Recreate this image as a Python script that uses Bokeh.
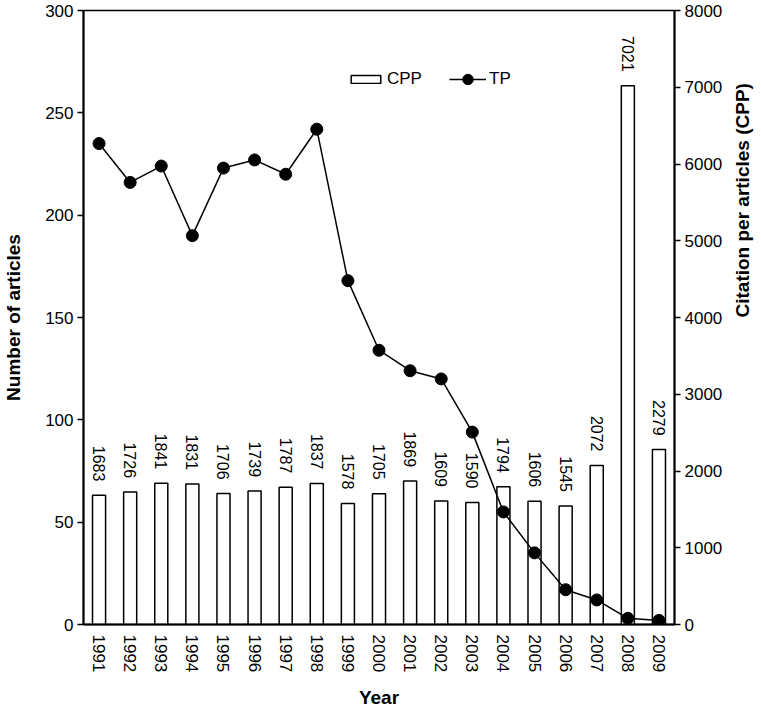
import math
from bokeh.plotting import figure
from bokeh.models import (FactorRange, Range1d, LinearAxis, FixedTicker, Legend,
                          LegendItem, ColumnDataSource)
from bokeh.core.properties import value
from bokeh.embed import file_html
from bokeh.resources import INLINE

years = ["1991", "1992", "1993", "1994", "1995", "1996", "1997", "1998", "1999", "2000",
         "2001", "2002", "2003", "2004", "2005", "2006", "2007", "2008", "2009"]
cpp = [1683, 1726, 1841, 1831, 1706, 1739, 1787, 1837, 1578, 1705,
       1869, 1609, 1590, 1794, 1606, 1545, 2072, 7021, 2279]
tp = [235, 216, 224, 190, 223, 227, 220, 242, 168, 134,
      124, 120, 94, 55, 35, 17, 12, 3, 2]
left_ticks = [0, 50, 100, 150, 200, 250, 300]
right_ticks = [0, 1000, 2000, 3000, 4000, 5000, 6000, 7000, 8000]

FONT = "Liberation Sans"

src = ColumnDataSource(dict(year=years, cpp=cpp, tp=tp, lab=[str(v) for v in cpp]))

p = figure(x_range=FactorRange(factors=years), y_range=Range1d(0, 300),
           frame_width=591, frame_height=614,
           min_border_left=74, min_border_top=10, min_border_right=80, min_border_bottom=70,
           output_backend="svg", toolbar_location=None, y_axis_location=None)
p.extra_y_ranges = {"cpp": Range1d(0, 8000)}
p.xgrid.visible = False
p.ygrid.visible = False
p.outline_line_color = "black"
p.outline_line_width = 1.5
p.background_fill_color = "white"
p.border_fill_color = "white"

left = LinearAxis(ticker=FixedTicker(ticks=left_ticks), axis_label="Number of articles")
right = LinearAxis(y_range_name="cpp", ticker=FixedTicker(ticks=right_ticks),
                   axis_label="Citation per articles (CPP)")
for ax in (left, right):
    ax.minor_tick_line_color = None
    ax.major_tick_in = 0
    ax.major_tick_out = 6
    ax.major_tick_line_width = 1.5
    ax.axis_line_width = 2
    ax.major_label_text_font = FONT
    ax.major_label_text_font_size = "17px"
    ax.major_label_text_color = "black"
    ax.major_label_standoff = 4
    ax.axis_label_text_font = FONT
    ax.axis_label_text_font_size = "19px"
    ax.axis_label_text_font_style = "bold"
    ax.axis_label_text_color = "black"
left.axis_label_standoff = 18
right.axis_label_standoff = 17
if hasattr(right, "axis_label_orientation"):
    right.axis_label_orientation = math.pi / 2
p.add_layout(left, "left")
p.add_layout(right, "right")

xa = p.xaxis[0]
xa.axis_label = "Year"
xa.major_tick_line_color = None
xa.minor_tick_line_color = None
xa.major_tick_out = 0
xa.axis_line_width = 2
xa.major_label_orientation = -math.pi / 2
xa.major_label_text_font = FONT
xa.major_label_text_font_size = "17px"
xa.major_label_text_color = "black"
xa.major_label_standoff = 10
xa.axis_label_text_font = FONT
xa.axis_label_text_font_size = "19px"
xa.axis_label_text_font_style = "bold"
xa.axis_label_text_color = "black"
xa.axis_label_standoff = 12

bars = p.vbar(x="year", top="cpp", width=0.42, source=src, y_range_name="cpp",
              fill_color="white", line_color="black", line_width=1.5)
p.text(x="year", y="cpp", text="lab", source=src, y_range_name="cpp",
       angle=-math.pi / 2, text_align="right", text_baseline="middle",
       y_offset=-14, text_font=value(FONT), text_font_size="16px", text_color="black")

ln = p.line(x="year", y="tp", source=src, line_color="black", line_width=1.5)
pts = p.scatter(x="year", y="tp", source=src, size=12, fill_color="black", line_color="black")

leg_common = dict(orientation="horizontal", label_standoff=3, padding=0, margin=0,
                  label_height=20, label_text_font=FONT, label_text_font_size="17px",
                  label_text_color="black",
                  border_line_alpha=0, background_fill_alpha=0)
legend1 = Legend(items=[LegendItem(label="CPP", renderers=[bars])],
                 location=(264, 535), glyph_width=37, glyph_height=10, **leg_common)
legend2 = Legend(items=[LegendItem(label="TP", renderers=[ln, pts])],
                 location=(366, 532), glyph_width=37, glyph_height=26, **leg_common)
p.add_layout(legend1, "center")
p.add_layout(legend2, "center")

open("out.html", "w").write(file_html(p, INLINE))
